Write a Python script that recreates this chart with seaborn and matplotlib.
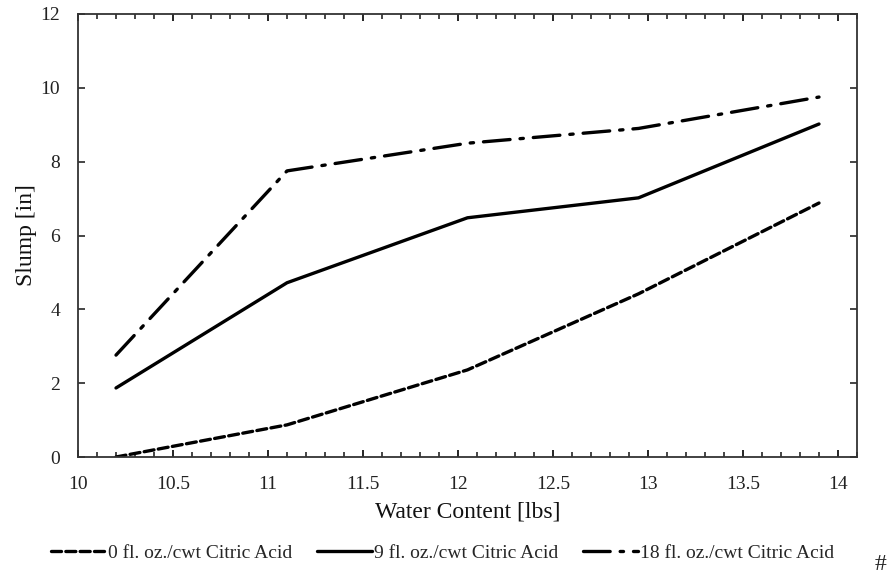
import matplotlib
matplotlib.use("Agg")
import matplotlib.pyplot as plt
import seaborn as sns
import pandas as pd
from matplotlib.ticker import MultipleLocator

water = [10.2, 11.1, 12.05, 12.95, 13.9]
slump_0 = [0.0, 0.87, 2.36, 4.42, 6.88]
slump_9 = [1.87, 4.72, 6.48, 7.02, 9.02]
slump_18 = [2.76, 7.75, 8.5, 8.9, 9.75]
labels = ["0 fl. oz./cwt Citric Acid", "9 fl. oz./cwt Citric Acid", "18 fl. oz./cwt Citric Acid"]
xticks = [10, 10.5, 11, 11.5, 12, 12.5, 13, 13.5, 14]
xticklabels = ["10", "10.5", "11", "11.5", "12", "12.5", "13", "13.5", "14"]

sns.set_theme(style="ticks")
plt.rcParams['font.family'] = ['Liberation Serif', 'DejaVu Serif']

fig = plt.figure(figsize=(8.88, 5.77), dpi=100)
ax = fig.add_axes([78/888, 1-457/577, (857-78)/888, (457-14)/577])

dashes = [(3.0, 1.3), None, (8, 3, 1, 3)]
for vals, lab, d in zip([slump_0, slump_9, slump_18], labels, dashes):
    df = pd.DataFrame({"x": water, "y": vals})
    sns.lineplot(data=df, x="x", y="y", ax=ax, color="black", linewidth=2.4, label=lab)
    line = ax.lines[-1]
    if d is not None:
        line.set_dashes(d)
    line.set_solid_capstyle("round")
    line.set_dash_capstyle("round")

ax.set_xlim(10, 14.1)
ax.set_ylim(0, 12)
ax.set_xticks(xticks)
ax.set_xticklabels(xticklabels)
ax.xaxis.set_minor_locator(MultipleLocator(0.1))
ax.yaxis.set_major_locator(MultipleLocator(2))
ax.tick_params(axis="x", which="major", direction="in", length=5, width=1.2, top=True, labelsize=14, pad=14, colors="black", labelcolor="#222222")
ax.tick_params(axis="x", which="minor", direction="in", length=3.5, width=1.2, top=True)
ax.tick_params(axis="y", which="major", direction="in", length=5, width=1.2, right=True, labelsize=14, pad=13, labelcolor="#222222")
for s in ax.spines.values():
    s.set_visible(True)
    s.set_linewidth(1.3)
    s.set_color("#333333")

ax.set_xlabel("Water Content [lbs]", fontsize=17, labelpad=6, color="#111111")
ax.set_ylabel("Slump [in]", fontsize=17, labelpad=2, color="#111111")

ax.legend(loc="center", bbox_to_anchor=(442.5/888, 1-553/577), bbox_transform=fig.transFigure,
          ncol=3, frameon=False, fontsize=14, handlelength=2.8, columnspacing=1.3, handletextpad=0.1)
fig.text(880/888, 1-565/577, "#", fontsize=17, ha="center", va="center")

fig.savefig("out.png", dpi=100)
